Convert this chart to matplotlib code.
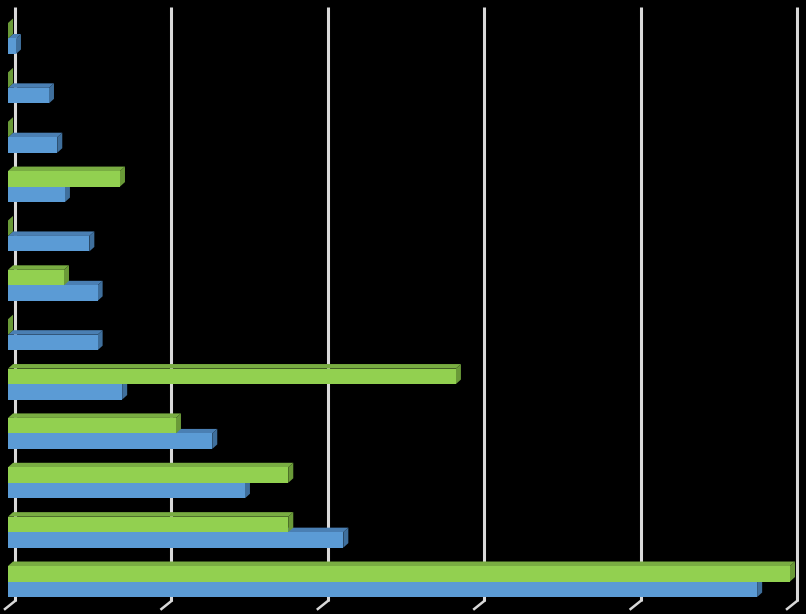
import matplotlib
matplotlib.use("Agg")
import matplotlib.pyplot as plt
from matplotlib.patches import Polygon
from matplotlib.lines import Line2D

categories = ["C1", "C2", "C3", "C4", "C5", "C6", "C7", "C8", "C9", "C10", "C11", "C12"]
green_vals = [0, 0, 0, 0.716, 0, 0.358, 0, 2.864, 1.074, 1.792, 1.792, 5.0]
blue_vals = [0.051, 0.262, 0.315, 0.364, 0.52, 0.573, 0.573, 0.73, 1.306, 1.515, 2.144, 4.79]
x_ticks = [0, 1, 2, 3, 4, 5]

W, H = 806, 614
fig = plt.figure(figsize=(W / 100, H / 100), dpi=100, facecolor="black")
ax_l, ax_r, ax_t, ax_b = 8, 790, 13.8, 606.2
ax = fig.add_axes([ax_l / W, 1 - ax_b / H, (ax_r - ax_l) / W, (ax_b - ax_t) / H])
ax.set_facecolor("black")
n = len(categories)
ax.set_xlim(0, 5)
ax.set_ylim(n - 0.5, -0.5)
for s in ax.spines.values():
    s.set_visible(False)
ax.set_xticks([])
ax.set_yticks([])

# pixel -> data conversions
ux = 5 / (ax_r - ax_l)
uy = n / (ax_b - ax_t)

# back-wall gridlines (offset 7px right)
gdx = 7 * ux
ytop = -0.5 + (7 - ax_t) * uy
yfloor = -0.5 + (601 - ax_t) * uy
for xv in x_ticks:
    ax.add_line(Line2D([xv + gdx, xv + gdx], [ytop, yfloor], color="#d9d9d9", lw=2.2,
                       zorder=1, clip_on=False, solid_capstyle="butt"))
    ax.add_line(Line2D([xv + gdx, xv + gdx - 10 * ux], [yfloor, yfloor + 8 * uy],
                       color="#d9d9d9", lw=1.8, zorder=1, clip_on=False))

h = 15.5 * uy
ddx, ddy = 5 * ux, -4.5 * uy


def draw_bars(vals, offset, front, top, side, z):
    ys = [i + offset for i in range(n)]
    ax.barh(ys, vals, height=h, color=front, edgecolor="none", zorder=z + 0.5)
    for y, v in zip(ys, vals):
        t = y - h / 2
        b = y + h / 2
        ax.add_patch(Polygon([(0, t), (v, t), (v + ddx, t + ddy), (ddx, t + ddy)],
                             closed=True, facecolor=top, edgecolor="none", zorder=z, clip_on=False))
        ax.add_patch(Polygon([(v, t), (v, b), (v + ddx, b + ddy), (v + ddx, t + ddy)],
                             closed=True, facecolor=side, edgecolor="none", zorder=z, clip_on=False))


draw_bars(blue_vals, h / 2, "#5b9bd5", "#4a7fb3", "#3f6f9c", 2)
draw_bars(green_vals, -h / 2, "#92d050", "#79ad42", "#6a9a38", 4)

fig.savefig("out.png", dpi=100, facecolor="black")
